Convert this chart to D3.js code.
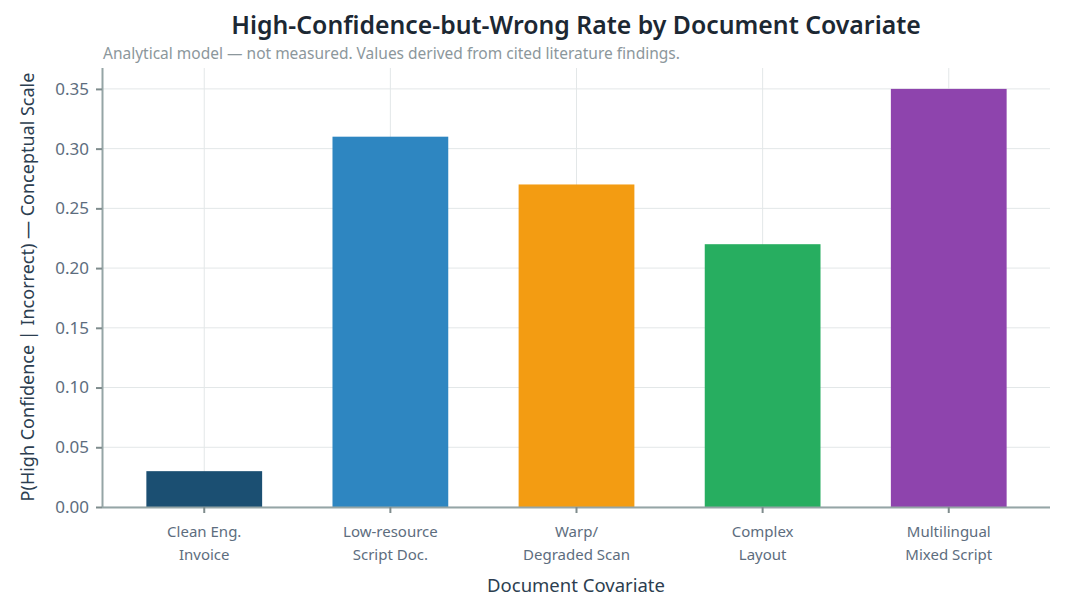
<!DOCTYPE html>
<html>
<head>
<meta charset="utf-8">
<script src="https://cdn.jsdelivr.net/npm/d3@7"></script>
<style>
  body { margin: 0; background: #fff; }
  svg text { font-family: "Noto Sans", "DejaVu Sans", sans-serif; }
</style>
</head>
<body>
<div id="chart-area"></div>
<script>
// data
var categories = ["Clean Eng.\nInvoice", "Low-resource\nScript Doc.", "Warp/\nDegraded Scan", "Complex\nLayout", "Multilingual\nMixed Script"];
var values = [0.03, 0.31, 0.27, 0.22, 0.35];
var colors = ["#1b4f72", "#2e86c1", "#f39c12", "#27ae60", "#8e44ad"];
var yTicks = [0, 0.05, 0.10, 0.15, 0.20, 0.25, 0.30, 0.35];

var W = 1065, H = 615;
var margin = {top: 68, right: 15, bottom: 108, left: 102},
    width = W - margin.left - margin.right,
    height = H - margin.top - margin.bottom;

var svg = d3.select("#chart-area").append("svg")
    .attr("width", W)
    .attr("height", H);
var g = svg.append("g")
    .attr("transform", "translate(" + margin.left + "," + margin.top + ")");

// scales
var x = d3.scaleBand().domain(categories).range([9, width - 8]).paddingInner(0.378).paddingOuter(0.19);
var y = d3.scaleLinear().domain([0, 0.3675]).range([height, 0]);

// grid
g.append("g").selectAll("line.hg").data(yTicks).enter().append("line")
    .attr("x1", 0).attr("x2", width)
    .attr("y1", (d) => y(d)).attr("y2", (d) => y(d))
    .attr("stroke", "#e3e7e8").attr("stroke-width", 1);
g.append("g").selectAll("line.vg").data(categories).enter().append("line")
    .attr("x1", (d) => x(d) + x.bandwidth() / 2).attr("x2", (d) => x(d) + x.bandwidth() / 2)
    .attr("y1", 0).attr("y2", height)
    .attr("stroke", "#e3e7e8").attr("stroke-width", 1);

// bars
g.selectAll("rect.bar").data(categories).enter().append("rect")
    .attr("class", "bar")
    .attr("x", (d) => x(d))
    .attr("width", x.bandwidth())
    .attr("y", (d, i) => y(values[i]))
    .attr("height", (d, i) => height - y(values[i]))
    .attr("fill", (d, i) => colors[i]);

// axes
var yAxis = g.append("g").call(d3.axisLeft(y).tickValues(yTicks).tickFormat(d3.format(".2f")).tickSize(6).tickPadding(7));
var xAxis = g.append("g").attr("transform", "translate(0," + height + ")")
    .call(d3.axisBottom(x).tickSize(6).tickPadding(13));

[yAxis, xAxis].forEach((a) => {
    a.select(".domain").attr("stroke", "#95a5a6").attr("stroke-width", 2);
    a.selectAll(".tick line").attr("stroke", "#7f8c8d").attr("stroke-width", 2);
    a.selectAll(".tick text").attr("fill", "#5d6d7e").style("font-size", "15px");
});
yAxis.selectAll(".tick text").style("font-size", "17px");
xAxis.select(".domain").attr("d", "M0,0.5H" + width);
yAxis.select(".domain").attr("d", "M0.5,0V" + height);

// two-line x tick labels
xAxis.selectAll(".tick text").each(function(d) {
    var t = d3.select(this), lines = d.split("\n");
    t.text(null);
    lines.forEach((l, i) => {
        t.append("tspan").attr("x", 0).attr("dy", i === 0 ? "0.71em" : "1.55em").text(l);
    });
});

// titles
svg.append("text")
    .attr("x", 576).attr("y", 34)
    .attr("text-anchor", "middle")
    .attr("fill", "#1c2833")
    .style("font-size", "24.8px").style("font-weight", "600")
    .text("High-Confidence-but-Wrong Rate by Document Covariate");
svg.append("text")
    .attr("x", 103).attr("y", 59)
    .attr("fill", "#8c979c")
    .style("font-size", "15.5px")
    .text("Analytical model \u2014 not measured. Values derived from cited literature findings.");
svg.append("text")
    .attr("x", 576).attr("y", 592)
    .attr("text-anchor", "middle")
    .attr("fill", "#2c3e50")
    .style("font-size", "18.5px")
    .text("Document Covariate");
svg.append("text")
    .attr("transform", "translate(34," + (margin.top + 219) + ") rotate(-90)")
    .attr("text-anchor", "middle")
    .attr("fill", "#2c3e50")
    .style("font-size", "18px")
    .text("P(High Confidence | Incorrect) \u2014 Conceptual Scale");
</script>
</body>
</html>
